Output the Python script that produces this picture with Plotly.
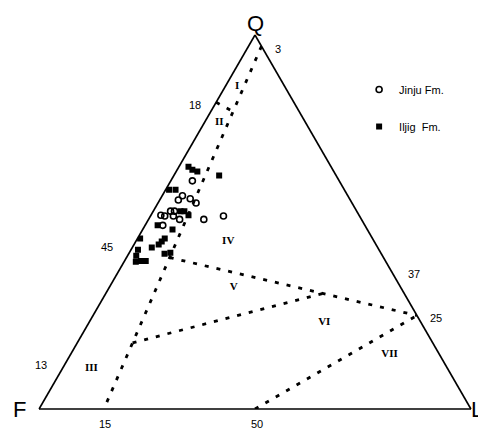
import plotly.graph_objects as go

# ---------------- data (percent Q, F, L) ----------------
jinju_Q = [61.0, 57.0, 55.9, 56.2, 55.1, 52.9, 52.9, 51.8, 51.6, 50.7, 50.7, 51.6, 49.1, 51.6]
jinju_F = [34.0, 38.3, 39.8, 36.9, 36.1, 43.1, 42.2, 45.9, 45.1, 42.1, 36.5, 31.5, 46.8, 43.1]
jinju_L = [5.0, 4.7, 4.3, 6.9, 8.8, 4.0, 4.9, 2.3, 3.3, 7.2, 12.8, 16.9, 4.1, 5.3]

iljig_Q = [64.8, 64.0, 63.5, 62.4, 58.6, 58.6, 52.9, 52.9, 51.8, 49.1, 48.0, 45.6,
           45.6, 44.8, 44.0, 43.2, 42.6, 41.0, 39.6, 39.6, 39.4, 41.5, 41.8]
iljig_F = [33.0, 32.5, 31.6, 27.1, 40.6, 39.1, 40.8, 39.9, 39.5, 48.0, 45.1, 53.8,
           48.1, 49.2, 50.3, 52.3, 55.8, 57.0, 56.6, 55.5, 57.9, 50.2, 48.7]
iljig_L = [2.2, 3.5, 4.9, 10.5, 0.8, 2.3, 6.3, 7.2, 8.7, 2.9, 6.9, 0.6,
           6.3, 6.0, 5.7, 4.5, 1.6, 2.0, 3.8, 4.9, 2.7, 8.3, 9.5]

# field boundaries (start, end) in Q, F, L
bound_Q = [[97, 0], [82, 79.5], [40.5, 25], [17.7, 30.9], [0, 25]]
bound_F = [[0, 85], [18, 15.3], [49.5, 0], [69.5, 18.8], [50, 0]]
bound_L = [[3, 15], [0, 5.2], [10, 75], [12.8, 50.3], [50, 75]]

# field names
field_text = ["I", "II", "III", "IV", "V", "VI", "VII"]
field_Q = [86.2, 76.7, 11.0, 44.8, 32.6, 23.1, 14.75]
field_F = [11.05, 19.9, 82.4, 33.8, 38.6, 22.4, 11.45]
field_L = [2.75, 3.4, 6.6, 21.4, 28.8, 54.5, 73.8]

# boundary values written along the edges
edge_text = ["3", "18", "45", "13", "37", "25", "15", "50"]
pole_text = ["Q", "F", "L"]

FONT = "Liberation Sans"

fig = go.Figure()

for q, f, l in zip(bound_Q, bound_F, bound_L):
    fig.add_trace(go.Scatterternary(
        a=q, b=f, c=l, mode="lines",
        line=dict(color="black", width=2.8, dash="4px,8px"),
        showlegend=False, hoverinfo="skip"))

fig.add_trace(go.Scatterternary(
    a=jinju_Q, b=jinju_F, c=jinju_L, mode="markers", name="Jinju Fm.",
    marker=dict(symbol="circle-open", size=6, color="black", line=dict(width=1.6, color="black")),
    legendgroup="j"))
fig.add_trace(go.Scatterternary(
    a=iljig_Q, b=iljig_F, c=iljig_L, mode="markers", name="Iljig  Fm.",
    marker=dict(symbol="square", size=6, color="black"),
    legendgroup="i"))

fig.add_trace(go.Scatterternary(
    a=field_Q, b=field_F, c=field_L, mode="text", text=field_text,
    textposition="middle center",
    textfont=dict(family="Liberation Serif", size=11, color="black", weight="bold"),
    showlegend=False, hoverinfo="skip"))

# label placement (paper fractions of the plot area)
edge_pos = [(0.554, 0.962), (0.360, 0.813), (0.157, 0.432), (0.005, 0.118),
            (0.869, 0.361), (0.919, 0.242), (0.152, -0.04), (0.504, -0.04)]
pole_pos = [(0.5005, 1.03), (-0.046, 0.0), (1.015, 0.0)]

annotations = []
for t, (x, y) in zip(edge_text, edge_pos):
    annotations.append(dict(text=t, x=x, y=y, xref="paper", yref="paper",
                            xanchor="center", yanchor="middle", showarrow=False,
                            font=dict(family=FONT, size=11, color="black")))
for t, (x, y) in zip(pole_text, pole_pos):
    annotations.append(dict(text=t, x=x, y=y, xref="paper", yref="paper",
                            xanchor="center", yanchor="middle", showarrow=False,
                            font=dict(family=FONT, size=22, color="black")))

axis_style = dict(showline=True, linecolor="black", linewidth=1.6, showgrid=False,
                  showticklabels=False, ticks="", title=dict(text=""))

# the page body adds an 8 px margin, so the figure is 8 px smaller each way
fig.update_layout(
    width=478, height=422,
    margin=dict(l=31, r=15, t=27, b=21, autoexpand=False),
    paper_bgcolor="white",
    font=dict(family=FONT, color="black"),
    ternary=dict(sum=100, bgcolor="white",
                 aaxis=axis_style, baxis=axis_style, caxis=axis_style),
    legend=dict(x=0.741, y=0.893, xanchor="left", yanchor="top",
                font=dict(family=FONT, size=11, color="black"),
                tracegroupgap=18, bgcolor="rgba(0,0,0,0)"),
    showlegend=True,
    annotations=annotations,
)

fig.write_html("out.html")
